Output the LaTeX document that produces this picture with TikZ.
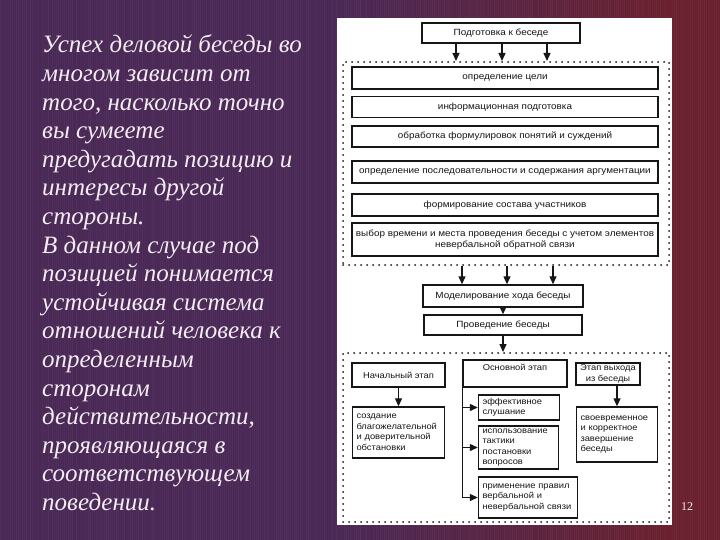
\documentclass[tikz,border=0pt]{standalone}
\usepackage{fontspec}
\setmainfont{Liberation Serif}
\newfontfamily\diagfont[FakeStretch=1.1]{Liberation Sans}
\usetikzlibrary{arrows.meta}
\definecolor{bgpurple}{HTML}{4C2A58}
\definecolor{bgmaroon}{HTML}{6C2230}
\definecolor{ink}{HTML}{161616}
\definecolor{slidetext}{HTML}{F3ECF2}
\begin{document}
\begin{tikzpicture}[x=1pt,y=-1pt,
  diag/.style={font=\diagfont\fontsize{9}{10.5}\selectfont, text=ink},
  small/.style={font=\diagfont\fontsize{8.5}{10.5}\selectfont},
  box/.style={diag, draw=ink, line width=1.4pt, fill=white, inner sep=1pt, align=center},
  lbox/.style={box, small, align=left, inner xsep=4pt},
  group/.style={draw=ink, line width=2pt, dash pattern=on 0pt off 6pt, line cap=round, inner sep=0pt},
  arr/.style={draw=ink, line width=1.2pt, -{Triangle[length=8pt,width=7pt]}},
  link/.style={draw=ink, line width=1.2pt}]
\useasboundingbox (0,0) rectangle (720,540);
% background
\fill[bgpurple] (0,0) rectangle (340,540);
\shade[left color=bgpurple, right color=bgmaroon] (339,0) rectangle (673,540);
\fill[bgmaroon] (672,0) rectangle (720,540);
\pgfmathsetseed{11}
\foreach \sx in {0,2,...,718}{
  \pgfmathsetmacro\opw{0.035*rnd}
  \pgfmathsetmacro\opb{0.05*rnd}
  \fill[white, opacity=\opw] (\sx,0) rectangle ++(1,540);
  \fill[black, opacity=\opb] (\sx+1,0) rectangle ++(1,540);
}
\node[fill=white, minimum width=335pt, minimum height=507pt, inner sep=0pt] (panel) at (504.5,271.5) {};
% left text
\node[anchor=north west, inner sep=0pt, text=slidetext, align=left,
      font=\fontsize{25}{28.6}\selectfont\itshape] (intro) at (42,34.8)
 {Успех деловой беседы во\\
  многом зависит от\\
  того, насколько точно\\
  вы сумеете\\
  предугадать позицию и\\
  интересы другой\\
  стороны.\\
  В данном случае под\\
  позицией понимается\\
  устойчивая система\\
  отношений человека к\\
  определенным\\
  сторонам\\
  действительности,\\
  проявляющаяся в\\
  соответствующем\\
  поведении.};
\node[text=slidetext, font=\fontsize{12}{14}\selectfont] (pagenum) at (687,507) {12};
% top part
\node[box, minimum width=158pt, minimum height=20pt] (prep) at (501,33) {Подготовка к беседе};
\node[group, minimum width=326pt, minimum height=203pt] (grp1) at (506,163.5) {};
\node[box, minimum width=306pt, minimum height=22pt] (b1) at (505,78) {определение цели};
\node[box, minimum width=306pt, minimum height=21pt] (b2) at (505,107) {информационная подготовка};
\node[box, minimum width=306pt, minimum height=21pt] (b3) at (505,136.5) {обработка формулировок понятий и суждений};
\node[box, minimum width=306pt, minimum height=22pt] (b4) at (505,172) {определение последовательности и содержания аргументации};
\node[box, minimum width=306pt, minimum height=22pt] (b5) at (505,205) {формирование состава участников};
\node[box, minimum width=306pt, minimum height=33pt] (b6) at (505,239.5) {выбор времени и места проведения беседы с учетом элементов\\невербальной обратной связи};
\coordinate (p1) at ([xshift=-45pt]prep.south);
\coordinate (p2) at ([xshift=1pt]prep.south);
\coordinate (p3) at ([xshift=46pt]prep.south);
\draw[arr] (p1) -- (p1 |- grp1.north);
\draw[arr] (p2) -- (p2 |- grp1.north);
\draw[arr] (p3) -- (p3 |- grp1.north);
% middle
\node[box, minimum width=160pt, minimum height=22pt] (model) at (503,296) {Моделирование хода беседы};
\node[box, minimum width=158pt, minimum height=20pt] (conduct) at (503,325) {Проведение беседы};
\coordinate (m1) at ([xshift=-44pt]grp1.south);
\coordinate (m2) at ([xshift=1pt]grp1.south);
\coordinate (m3) at ([xshift=47pt]grp1.south);
\draw[arr] (m1) -- (m1 |- model.north);
\draw[arr] (m2) -- (m2 |- model.north);
\draw[arr] (m3) -- (m3 |- model.north);
\draw[arr] (model.south) -- (conduct.north);
\node[group, minimum width=326pt, minimum height=169pt] (grp2) at (506,437.5) {};
\draw[arr] (conduct.south) -- (conduct.south |- grp2.north);
% bottom part
\node[box, small, minimum width=93pt, minimum height=24pt] (start) at (398.5,375) {Начальный этап};
\node[lbox, text width=84pt, minimum height=51pt] (create) at (398.5,432.5) {создание\\благожелательной\\и доверительной\\обстановки};
\draw[arr] (start.south) -- (create.north);
\node[box, small, minimum width=104pt, text height=7pt, text depth=14pt, inner ysep=3pt] (main) at (515,373.5) {Основной этап};
\node[lbox, text width=73pt, minimum height=25pt] (e1) at (519,407.5) {эффективное\\слушание};
\node[lbox, text width=72pt, minimum height=43pt] (e2) at (518.5,447.5) {использование\\тактики\\постановки\\вопросов};
\node[lbox, text width=91pt, minimum height=41pt] (e3) at (528,497.5) {применение правил\\вербальной и\\невербальной связи};
\draw[link] (main.south west) -- (main.south west |- e3.west);
\draw[arr] (main.south west |- e1.west) -- (e1.west);
\draw[arr] (main.south west |- e2.west) -- (e2.west);
\draw[arr] (main.south west |- e3.west) -- (e3.west);
\node[box, small, minimum width=64pt, minimum height=22pt] (exit) at (608,374) {Этап выхода\\из беседы};
\node[lbox, text width=73pt, minimum height=55pt] (finish) at (617,434.5) {своевременное\\и корректное\\завершение\\беседы};
\draw[arr] (exit.south -| finish.north) -- (finish.north);
\end{tikzpicture}
\end{document}
